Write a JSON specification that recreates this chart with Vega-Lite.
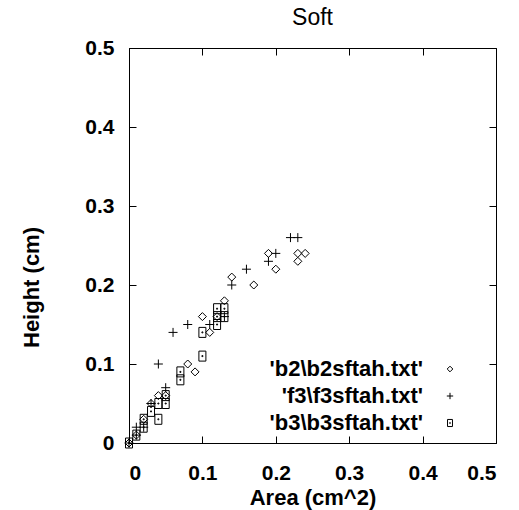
{
  "$schema": "https://vega.github.io/schema/vega-lite/v6.json",
  "autosize": "none",
  "padding": {"left": 129, "top": 48, "right": 23, "bottom": 67},
  "width": 367,
  "height": 395,
  "background": "white",
  "title": {"text": "Soft", "font": "Liberation Sans", "fontSize": 23, "fontWeight": "normal", "color": "black", "offset": 7},
  "config": {
    "view": {"stroke": "black", "strokeWidth": 1},
    "axis": {"grid": false, "domainColor": "black", "tickColor": "black", "labelFont": "Liberation Sans", "labelFontSize": 21, "labelFontWeight": "bold", "labelColor": "black", "titleFont": "Liberation Sans", "titleFontSize": 22, "titleFontWeight": "bold", "titleColor": "black", "tickSize": -7}
  },
  "data": {"values": [
    {"series": "b2", "area": 0, "height": 0},
    {"series": "b2", "area": 0.01, "height": 0.01},
    {"series": "b2", "area": 0.02, "height": 0.03},
    {"series": "b2", "area": 0.03, "height": 0.05},
    {"series": "b2", "area": 0.04, "height": 0.06},
    {"series": "b2", "area": 0.05, "height": 0.06},
    {"series": "b2", "area": 0.08, "height": 0.1},
    {"series": "b2", "area": 0.09, "height": 0.09},
    {"series": "b2", "area": 0.1, "height": 0.16},
    {"series": "b2", "area": 0.11, "height": 0.14},
    {"series": "b2", "area": 0.12, "height": 0.16},
    {"series": "b2", "area": 0.13, "height": 0.18},
    {"series": "b2", "area": 0.14, "height": 0.21},
    {"series": "b2", "area": 0.17, "height": 0.2},
    {"series": "b2", "area": 0.19, "height": 0.24},
    {"series": "b2", "area": 0.2, "height": 0.22},
    {"series": "b2", "area": 0.23, "height": 0.23},
    {"series": "b2", "area": 0.23, "height": 0.24},
    {"series": "b2", "area": 0.24, "height": 0.24},
    {"series": "f3", "area": 0, "height": 0},
    {"series": "f3", "area": 0.01, "height": 0.01},
    {"series": "f3", "area": 0.01, "height": 0.02},
    {"series": "f3", "area": 0.02, "height": 0.02},
    {"series": "f3", "area": 0.03, "height": 0.05},
    {"series": "f3", "area": 0.05, "height": 0.07},
    {"series": "f3", "area": 0.04, "height": 0.1},
    {"series": "f3", "area": 0.06, "height": 0.14},
    {"series": "f3", "area": 0.08, "height": 0.15},
    {"series": "f3", "area": 0.11, "height": 0.15},
    {"series": "f3", "area": 0.13, "height": 0.16},
    {"series": "f3", "area": 0.14, "height": 0.2},
    {"series": "f3", "area": 0.16, "height": 0.22},
    {"series": "f3", "area": 0.19, "height": 0.23},
    {"series": "f3", "area": 0.2, "height": 0.24},
    {"series": "f3", "area": 0.22, "height": 0.26},
    {"series": "f3", "area": 0.23, "height": 0.26},
    {"series": "b3", "area": 0, "height": 0},
    {"series": "b3", "area": 0.01, "height": 0.01},
    {"series": "b3", "area": 0.02, "height": 0.02},
    {"series": "b3", "area": 0.02, "height": 0.03},
    {"series": "b3", "area": 0.03, "height": 0.04},
    {"series": "b3", "area": 0.04, "height": 0.03},
    {"series": "b3", "area": 0.04, "height": 0.05},
    {"series": "b3", "area": 0.05, "height": 0.05},
    {"series": "b3", "area": 0.05, "height": 0.06},
    {"series": "b3", "area": 0.07, "height": 0.08},
    {"series": "b3", "area": 0.07, "height": 0.09},
    {"series": "b3", "area": 0.1, "height": 0.11},
    {"series": "b3", "area": 0.1, "height": 0.14},
    {"series": "b3", "area": 0.12, "height": 0.15},
    {"series": "b3", "area": 0.12, "height": 0.16},
    {"series": "b3", "area": 0.12, "height": 0.17},
    {"series": "b3", "area": 0.13, "height": 0.16},
    {"series": "b3", "area": 0.13, "height": 0.17}
  ]},
  "layer": [
    {
      "mark": {"type": "point", "filled": false, "color": "black", "strokeWidth": 1, "size": 100, "opacity": 1},
      "encoding": {
        "x": {"field": "area", "type": "quantitative", "scale": {"domain": [0, 0.5], "nice": false, "zero": false}, "axis": {"title": "Area (cm^2)", "values": [0, 0.1, 0.2, 0.3, 0.4, 0.5], "format": "~g", "labelPadding": 26, "titlePadding": 4}},
        "y": {"field": "height", "type": "quantitative", "scale": {"domain": [0, 0.5], "nice": false, "zero": false}, "axis": {"title": "Height (cm)", "values": [0, 0.1, 0.2, 0.3, 0.4, 0.5], "format": "~g", "labelPadding": 22, "titlePadding": 41, "titleY": 239}},
        "shape": {
          "field": "series", "type": "nominal",
          "scale": {"domain": ["b2", "f3", "b3"], "range": ["M0,-0.8L0.8,0L0,0.8L-0.8,0Z", "M-0.9,0H0.9M0,-0.9V0.9", "M-0.7,-1H0.7V1H-0.7Z M-0.1,-0.1H0.1V0.1H-0.1Z"]},
          "legend": {
            "title": null, "orient": "none", "legendX": 310, "legendY": 310,
            "labelExpr": "datum.value == 'b2' ? \"'b2\\\\b2sftah.txt'\" : datum.value == 'f3' ? \"'f3\\\\f3sftah.txt'\" : \"'b3\\\\b3sftah.txt'\"",
            "labelFont": "Liberation Sans", "labelFontSize": 22, "labelFontWeight": "bold", "labelColor": "black",
            "labelAlign": "right", "labelOffset": -38, "symbolSize": 50, "symbolStrokeColor": "black", "symbolStrokeWidth": 1, "symbolFillColor": "transparent", "rowPadding": 5, "padding": 0
          }
        }
      }
    },
    {
      "mark": {"type": "point", "opacity": 0},
      "encoding": {
        "x": {"field": "area", "type": "quantitative", "axis": {"orient": "top", "title": null, "labels": false, "values": [0, 0.1, 0.2, 0.3, 0.4, 0.5], "domain": false}},
        "y": {"field": "height", "type": "quantitative", "axis": {"orient": "right", "title": null, "labels": false, "values": [0, 0.1, 0.2, 0.3, 0.4, 0.5], "domain": false}}
      }
    }
  ],
  "resolve": {"axis": {"x": "independent", "y": "independent"}}
}
